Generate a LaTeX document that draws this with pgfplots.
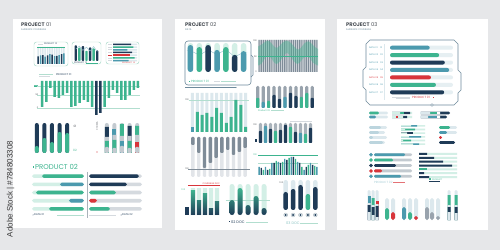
\documentclass[border=0pt]{standalone}
\usepackage{pgfplots}
\pgfplotsset{compat=1.18}
\usepackage{fontspec}
\setmainfont{Poppins}
\newfontfamily\lib{Liberation Sans}
\definecolor{cNavy}{HTML}{1F3B57}
\definecolor{cTeal}{HTML}{3DB48F}
\definecolor{cSteel}{HTML}{4C9AAE}
\definecolor{cMint}{HTML}{D3EFE6}
\definecolor{cMintD}{HTML}{B2DECF}
\definecolor{cLb}{HTML}{DCE8ED}
\definecolor{cLb2}{HTML}{BCD5DE}
\definecolor{cRed}{HTML}{D8353B}
\definecolor{cHat}{HTML}{A9B2BA}
\definecolor{cHat2}{HTML}{C3CAD0}
\definecolor{cHatL}{HTML}{D5DADF}
\definecolor{cHatD}{HTML}{7F8C98}
\definecolor{cBg}{HTML}{E6E7E9}
\definecolor{cFrame}{HTML}{6E8A9C}
\definecolor{cTxt}{HTML}{4A4F55}
\definecolor{cSub}{HTML}{6B8797}
\definecolor{cAdobe}{HTML}{3C3C3C}
\newcommand\tx{\fontsize{2.2}{2.4}\selectfont}
\newcommand\ts{\fontsize{3}{3.2}\selectfont}
\pgfplotsset{
  mini/.style={scale only axis, hide axis, clip=false, anchor=south west, enlargelimits=false},
  vb/.style={ybar, bar shift=0pt, draw=none},
  hb/.style={xbar, bar shift=0pt, draw=none},
  ln/.style={sharp plot, no marks},
}
\begin{document}
\begin{tikzpicture}
\useasboundingbox (0,0) rectangle (500bp,250bp);
\begin{scope}[x=1bp,y=1bp]
\fill[cBg] (0,0) rectangle (500,250);
\fill[white] (13,22) rectangle (162,231);
\fill[white] (175,20) rectangle (325,231);
\fill[white] (337,20) rectangle (488,231);
% ---------- page 1 texts ----------
\node[anchor=west, inner sep=0] at (21,225) {\fontsize{5.2}{5}\selectfont\color{cTxt}\textbf{PROJECT} 01};
\node[anchor=west, inner sep=0] at (21,220) {\fontsize{2.4}{2.4}\selectfont\color{cSub}AUDIENCE COVERAGE};
\draw[cMintD, line width=.5, rounded corners=2.5] (34,184) rectangle (68,208);
\draw[cMintD, line width=.5, rounded corners=2.5] (72,186) rectangle (101,208);
\draw[cMintD, line width=.5, rounded corners=2.5] (106,186) rectangle (139,208);
\draw[cHatL, line width=.5] (38,205.8)--(43,205.8);
\node[anchor=west, inner sep=0] at (44,205.8) {\tx\color{cNavy}PRODUCT 01};
\node[anchor=west, inner sep=0] at (74,187) {\tx\color{cNavy}PRODUCT 01};
\draw[cTeal, line width=.4] (86,187)--(98,187);
\foreach \i in {1,...,7}{\pgfmathsetmacro\yy{205.64-(\i-1)*2.714}\draw[cHatL, line width=.6] (108,\yy)--(111.5,\yy);}
\draw[cRed, line width=.6] (108,194.8)--(111.5,194.8);
\node[anchor=west, inner sep=0] at (122,187.3) {\tx\color{cRed}PRODUCT 01};
\draw[cMintD, line width=.8] (39,175.5)--(53,175.5);
\draw[cHatL, line width=.4] (39,174)--(50,174);
\node[anchor=west, inner sep=0] at (56,175) {\fontsize{2.6}{2.6}\selectfont\color{cNavy}PRODUCT 01};
\node[fill=cTeal, inner sep=.4, anchor=east] at (38.5,164) {\tx\color{white}100};
\node[anchor=east, inner sep=0] at (38.5,155) {\tx\color{cTxt}50};
\node[anchor=east, inner sep=0] at (38.5,142) {\tx\color{cTxt}0};
\node[inner sep=0] at (75,124) {\ts\color{cTxt}01};
\node[inner sep=0] at (75,100) {\ts\color{cTeal}02};
\node[rotate=90, inner sep=0] at (97,124) {\tx\color{cTxt}01 DATA};
\fill[cRed] (97,98) circle (.7);
\fill[cTeal] (32.5,82.3) rectangle (33.8,83.6);
\node[anchor=west, inner sep=0] at (35,83) {\fontsize{7}{7}\selectfont\color{cTeal}PRODUCT 02};
\draw[cHat, line width=.6] (87,78)--(87,32);
\fill[cNavy] (33,35) circle (.5);
\node[anchor=west, inner sep=0] at (34,35) {\fontsize{2.6}{2.6}\selectfont\color{cNavy}DATA 01};
\draw[cMintD, line width=.8] (57,35)--(84,35);
\draw[cHatL, line width=.8] (89,35)--(116,35);
\fill[cNavy] (121,35) circle (.5);
\node[anchor=west, inner sep=0] at (122,35) {\fontsize{2.6}{2.6}\selectfont\color{cNavy}DATA 02};
\node[rotate=90, inner sep=0] at (10.5,61) {\lib\fontsize{8}{8}\selectfont\color{cAdobe}Adobe Stock | \#784803308};
% ---------- page 2 texts ----------
\node[anchor=west, inner sep=0] at (185,225) {\fontsize{5.2}{5}\selectfont\color{cTxt}\textbf{PROJECT} 02};
\node[anchor=west, inner sep=0] at (185,220) {\fontsize{2.4}{2.4}\selectfont\color{cSub}DATA};
\draw[cFrame, line width=.6, rounded corners=3] (185,165) rectangle (251,209);
\draw[cFrame, line width=.6] (251,195)--(253,193)--(253,175)--(251,173);
\draw[cFrame, line width=.4] (185,162.5)--(236,162.5);
\fill[cFrame] (236,162.5) circle (.6);
\fill[cTeal] (189,168) rectangle (190.2,169.2);
\node[anchor=west, inner sep=0] at (191,168.6) {\ts\color{cTeal}PRODUCT 01};
\draw[cHatL, line width=1] (214,168.6)--(220,168.6);
\draw[cMintD, line width=.4] (221,168.6)--(236,168.6);
\node[anchor=east, inner sep=0] at (257,209) {\tx\color{cTxt}100};
\node[anchor=east, inner sep=0] at (257,193) {\tx\color{cTxt}50};
\node[anchor=east, inner sep=0] at (257,178) {\tx\color{cTxt}0};
\node[anchor=west, inner sep=0] at (258,139.5) {\tx\color{cTeal}Product 02};
\draw[cMintD, line width=.4] (271,139.5)--(284,139.5);
\draw[cHatL, line width=.6] (290,128.5)--(312,128.5);
\node[anchor=east, inner sep=0] at (257,125) {\tx\color{cTxt}100};
\fill[cNavy] (254.5,108) rectangle (256.5,111);
\node[anchor=east, inner sep=0] at (257,95) {\tx\color{cTeal}100};
\node[anchor=east, inner sep=0] at (189,150) {\tx\color{cTxt}100};
\node[anchor=east, inner sep=0] at (189,81) {\tx\color{cTxt}100};
\draw[cRed, line width=.5] (188,64.5)--(220,64.5);
\node[anchor=east, inner sep=0] at (220,66.3) {\tx\color{cRed}COVERAGE DOC};
\node[anchor=west, inner sep=0] at (181.5,60) {\tx\color{cTeal}100};
\fill[cNavy] (229,27.5) rectangle (230.3,28.8);
\node[anchor=west, inner sep=0] at (231,28.1) {\fontsize{3.6}{3.6}\selectfont\color{cNavy}02 DOC};
\draw[cMintD, line width=.6] (246,28)--(268,28);
\node[anchor=west, inner sep=0] at (286,27) {\fontsize{3.6}{3.6}\selectfont\color{cMintD!60!cSteel}03 DOC};
\draw[cMintD, line width=.6] (300,27)--(318,27);
\node[anchor=west, inner sep=0] at (279.5,67) {\tx\color{cTxt}100};
% ---------- page 3 texts ----------
\node[anchor=west, inner sep=0] at (346,225) {\fontsize{5.2}{5}\selectfont\color{cTxt}\textbf{PROJECT} 03};
\node[anchor=west, inner sep=0] at (346,220) {\fontsize{2.4}{2.4}\selectfont\color{cSub}AUDIENCE COVERAGE};
\draw[cFrame, line width=.6] (370,210)--(454,210)--(458,206)--(458,180)--(461,177)--(461,160)--(458,157)--(458,149)--(454,145)--(370,145)--(366,149)--(366,160)--(363,163)--(363,180)--(366,183)--(366,206)--cycle;
\draw[cFrame, line width=.4, fill=white] (432,145) circle (1.4);
\foreach \i/\c in {1/cSteel,2/cSteel,3/cSteel,4/cSteel,5/cRed,6/cSteel,7/cSteel}{
  \pgfmathsetmacro\yy{206-(\i-0.5)*7.43}
  \node[anchor=west, inner sep=0] at (369,\yy) {\tx\color{\c}DATA 0\i};
  \node[anchor=west, inner sep=0] at (380,\yy) {\tx\color{\c}0\i};
}
\draw[cLb, line width=.8] (384.5,150)--(384.5,206);
\draw[cHatL, line width=.5] (392,153.2)--(410,153.2);
\draw[cHatL, line width=.5] (396,151.6)--(410,151.6);
\node[anchor=west, inner sep=0] at (412,152.3) {\ts\color{cRed}PRODUCT 01};
\fill[cRed] (433,151.6) rectangle (434.4,153);
\node[anchor=west, inner sep=0] at (374,67.5) {\ts\color{cSteel!50}PRODUCT 02};
\draw[cRed!70, line width=.4] (393,67.5)--(405,67.5);
\fill[cTeal] (429,70) rectangle (431,71.5);
\node[anchor=west, inner sep=0] at (432,70.7) {\tx\color{cTeal}PRODUCT};
\draw[cNavy, line width=.3] (429,68.5)--(440,68.5);
\end{scope}
% ================= PAGE 1 AXES =================
\begin{axis}[mini, at={(37bp,186bp)}, width=28bp, height=17bp, xmin=0.5, xmax=12.5, ymin=0, ymax=100]
\addplot[vb, bar width=1.5bp, fill=cLb] coordinates {(1,100)(2,100)(3,100)(4,100)(5,100)(6,100)(7,100)(8,100)(9,100)(10,100)(11,100)(12,100)};
\addplot[vb, bar width=1.5bp, fill=cNavy] coordinates {(1,45)(3,52)(5,50)(7,55)(9,48)(11,58)};
\addplot[vb, bar width=1.5bp, fill=cSteel] coordinates {(2,50)(4,44)(6,58)(8,46)(10,52)(12,62)};
\addplot[ln, cTeal, line width=.4bp] coordinates {(0.5,100)(12.5,100)};
\end{axis}
\begin{axis}[mini, at={(74bp,189bp)}, width=25bp, height=17bp, xmin=0.5, xmax=7.5, ymin=0, ymax=100]
\addplot[vb, bar width=2.4bp, fill=cNavy, rounded corners=.8bp] coordinates {(1,92)(3,88)(5,80)(7,62)};
\addplot[vb, bar width=2.4bp, fill=cTeal, rounded corners=.8bp] coordinates {(2,78)(4,60)(6,74)};
\addplot[ln, cSteel!60, line width=.4bp] coordinates {(1,70)(2,88)(3,62)(4,82)(5,58)(6,85)(7,55)};
\end{axis}
\begin{axis}[mini, at={(113bp,188bp)}, width=24bp, height=19bp, xmin=0, xmax=100, ymin=0.5, ymax=7.5, y dir=reverse]
\addplot[hb, bar width=1.5bp, fill=cLb] coordinates {(100,1)(100,2)(100,3)(100,4)(100,5)(100,6)(100,7)};
\addplot[hb, bar width=1.5bp, fill=cNavy] coordinates {(75,1)(80,4)};
\addplot[hb, bar width=1.5bp, fill=cTeal] coordinates {(85,2)(90,6)};
\addplot[hb, bar width=1.5bp, fill=cSteel] coordinates {(60,3)(65,7)};
\addplot[hb, bar width=1.5bp, fill=cRed] coordinates {(70,5)};
\end{axis}
\begin{axis}[mini, at={(40bp,129bp)}, width=100bp, height=40bp, xmin=0.5, xmax=24.5, ymin=-40, ymax=0]
\addplot[ln, cMintD, line width=.6bp] coordinates {(-0.2,-5)(24.5,-5)};
\addplot[ln, cMintD, line width=.6bp] coordinates {(-0.2,-14)(24.5,-14)};
\addplot[ln, cMintD, line width=.6bp] coordinates {(-0.2,-27)(24.5,-27)};
\addplot[vb, bar width=2.5bp, fill=cTeal] coordinates {(1,-26)(2,-21)(3,-7)(4,-16)(5,-17)(6,-14)(7,-12)(8,-26)(9,-25)(10,-22)(11,-19)(12,-21)(13,-26)(16,-26)(17,-17)(18,-9)(19,-12)(20,-19)(21,-19)(22,-14)(23,-9)(24,-7)};
\addplot[vb, bar width=2.5bp, fill=cNavy] coordinates {(14,-34)(15,-32)};
\end{axis}
\begin{axis}[mini, at={(33bp,97bp)}, width=38bp, height=30bp, xmin=0.5, xmax=5.5, ymin=0, ymax=30]
\addplot[vb, bar width=4bp, fill=cNavy, rounded corners=2bp] coordinates {(1,30)(2,30)(3,30)(4,30)(5,30)};
\addplot[vb, bar width=4bp, fill=cTeal, rounded corners=2bp] coordinates {(1,7)(2,15)(3,11)(4,21)(5,20)};
\end{axis}
\begin{axis}[mini, at={(103bp,97bp)}, width=38bp, height=30bp, xmin=0.5, xmax=5.5, ymin=0, ymax=30]
\addplot[vb, bar width=4bp, fill=cHat2, rounded corners=2bp] coordinates {(1,30)(2,30)(3,30)(4,30)(5,30)};
\addplot[vb, bar width=4bp, fill=cNavy] coordinates {(1,26)(4,27)};
\addplot[vb, bar width=4bp, fill=cSteel] coordinates {(2,24)};
\addplot[vb, bar width=4bp, fill=cTeal] coordinates {(3,29)(5,27)};
\addplot[vb, bar width=4bp, fill=cHat2] coordinates {(1,16)(2,18)(3,17)(4,17)(5,18)};
\addplot[vb, bar width=4bp, fill=cTeal] coordinates {(1,12)(2,13)(4,12)};
\addplot[vb, bar width=4bp, fill=cSteel] coordinates {(3,12)};
\addplot[vb, bar width=4bp, fill=cRed] coordinates {(5,11)};
\addplot[vb, bar width=4bp, fill=cHat2, rounded corners=1bp] coordinates {(1,6)(2,5)(3,7)(4,5)(5,6)};
\end{axis}
\begin{axis}[mini, at={(32bp,37bp)}, width=52bp, height=41bp, xmin=0, xmax=52, x dir=reverse, ymin=0.5, ymax=5.5, y dir=reverse]
\addplot[hb, bar width=3.6bp, fill=cMint, rounded corners=1.8bp] coordinates {(52,1)(52,2)(52,3)(52,4)(52,5)};
\addplot[hb, bar width=3.6bp, fill=cTeal, rounded corners=1.8bp] coordinates {(42,1)(48,3)(35,5)};
\addplot[hb, bar width=3.6bp, fill=cSteel, rounded corners=1.8bp] coordinates {(24,2)(15,4)};
\end{axis}
\begin{axis}[mini, at={(89bp,37bp)}, width=53bp, height=41bp, xmin=0, xmax=53, ymin=0.5, ymax=5.5, y dir=reverse]
\addplot[hb, bar width=3.6bp, fill=cHatL, rounded corners=1.8bp] coordinates {(53,1)(53,2)(53,3)(53,4)(53,5)};
\addplot[hb, bar width=3.6bp, fill=cNavy, rounded corners=1.8bp] coordinates {(50,1)(38,2)};
\addplot[hb, bar width=3.6bp, fill=cTeal, rounded corners=1.8bp] coordinates {(27,3)(21,5)};
\addplot[hb, bar width=3.6bp, fill=cRed, rounded corners=1.8bp] coordinates {(8,4)};
\end{axis}
% ================= PAGE 2 AXES =================
\begin{axis}[mini, at={(186bp,178bp)}, width=62bp, height=29bp, xmin=0.5, xmax=7.5, ymin=0, ymax=100]
\addplot[vb, bar width=5.5bp, fill=cMint, rounded corners=2.7bp] coordinates {(1,100)(2,100)(3,100)(4,100)(5,100)(6,100)(7,100)};
\addplot[ln, cSteel!60, line width=.4bp] coordinates {(0.6,74)(1,74)(2,58)(3,76)(4,60)(5,78)(6,52)(7,68)(7.4,68)};
\addplot[vb, bar width=5.5bp, fill=cSteel, rounded corners=2.7bp] coordinates {(1,93)(4,76)(7,72)};
\addplot[vb, bar width=5.5bp, fill=cTeal, rounded corners=2.7bp] coordinates {(2,86)(5,86)};
\addplot[vb, bar width=5.5bp, fill=cNavy, rounded corners=2.7bp] coordinates {(3,93)(6,59)};
\end{axis}
\begin{axis}[mini, at={(258bp,178bp)}, width=60bp, height=32bp, xmin=0.5, xmax=28.5, ymin=0, ymax=100]
\addplot[vb, bar width=2.1bp, fill=cHatL] coordinates {(1,100)(2,100)(3,100)(4,100)(5,100)(6,100)(7,100)(8,100)(9,100)(10,100)(11,100)(12,100)(13,100)(14,100)(15,100)(16,100)(17,100)(18,100)(19,100)(20,100)(21,100)(22,100)(23,100)(24,100)(25,100)(26,100)(27,100)(28,100)};
\addplot[vb, bar width=1.1bp, fill=cHatD] coordinates {(1,100)(2,100)(3,100)(4,100)(5,100)(6,100)(7,100)(8,100)(9,100)(10,100)(11,100)(12,100)(13,100)(14,100)(15,100)(16,100)(17,100)(18,100)(19,100)(20,100)(21,100)(22,100)(23,100)(24,100)(25,100)(26,100)(27,100)(28,100)};
\addplot[fill=cTeal, fill opacity=.4, draw=none] coordinates {(0.5,80)(2,85)(3,90)(4,95)(5,98)(6,95)(7,88)(8,80)(9,75)(10,78)(11,85)(12,92)(13,96)(14,98)(15,95)(16,90)(17,82)(18,75)(19,70)(20,72)(21,80)(22,88)(23,94)(24,96)(25,92)(26,85)(27,78)(28.5,72)(28.5,20)(27,25)(26,30)(25,40)(24,48)(23,50)(22,45)(21,38)(20,30)(19,25)(18,28)(17,35)(16,45)(15,55)(14,60)(13,55)(12,45)(11,35)(10,28)(9,25)(8,30)(7,40)(6,48)(5,50)(4,45)(3,35)(2,25)(0.5,20)} -- cycle;
\addplot[ln, cTeal, line width=.5bp] coordinates {(0.5,50)(28.5,50)};
\end{axis}
\begin{axis}[mini, at={(255bp,142bp)}, width=60bp, height=22bp, xmin=0.5, xmax=11.5, ymin=0, ymax=22]
\addplot[vb, bar width=3.2bp, fill=cHatD!80!white, rounded corners=1.2bp] coordinates {(1,22)(2,22)(3,22)(4,22)(5,22)(6,22)(7,22)(8,22)(9,22)(10,22)(11,22)};
\addplot[vb, bar width=3.2bp, fill=cTeal, rounded corners=.8bp] coordinates {(1,10)(3,7)(9,11)(10,15)};
\addplot[vb, bar width=3.2bp, fill=cSteel, rounded corners=.8bp] coordinates {(2,6)(6,11)};
\addplot[vb, bar width=3.2bp, fill=cNavy, rounded corners=.8bp] coordinates {(4,13)(5,9)(7,15)(8,12)(11,10)};
\end{axis}
\begin{axis}[mini, at={(258bp,107bp)}, width=55bp, height=20bp, xmin=0.5, xmax=11.5, ymin=0, ymax=20]
\addplot[vb, bar width=3.2bp, fill=cHat, rounded corners=1.2bp] coordinates {(1,20)(2,20)(3,20)(4,20)(5,20)(6,20)(7,20)(8,20)(9,20)(10,20)(11,20)};
\addplot[vb, bar width=3.2bp, fill=cNavy, rounded corners=.8bp] coordinates {(1,12)(3,14)(5,13)(6,18)(8,11)(11,15)};
\addplot[vb, bar width=3.2bp, fill=cSteel, rounded corners=.8bp] coordinates {(2,17)(9,10)};
\addplot[vb, bar width=3.2bp, fill=cTeal, rounded corners=.8bp] coordinates {(4,12)(7,16)(10,9)};
\end{axis}
\begin{axis}[mini, at={(258bp,75bp)}, width=60bp, height=20bp, xmin=0.5, xmax=28.5, ymin=0, ymax=20]
\addplot[ln, cTeal, line width=.5bp] coordinates {(0.5,20)(28.5,20)};
\addplot[ln, cMintD, line width=.4bp] coordinates {(0.5,12)(28.5,12)};
\addplot[vb, bar width=1.4bp, fill=cSteel] coordinates {(1,8)(4,8)(7,12)(10,13)(13,16)(16,18)(19,13)(22,5)(25,12)(28,8)};
\addplot[vb, bar width=1.4bp, fill=cNavy] coordinates {(2,7)(5,5)(8,12)(11,12)(14,15)(17,18)(20,12)(23,8)(26,10)};
\addplot[vb, bar width=1.4bp, fill=cTeal] coordinates {(3,5)(6,6)(9,14)(12,13)(15,17)(18,16)(21,8)(24,10)(27,9)};
\end{axis}
\begin{axis}[mini, at={(190bp,118bp)}, width=58bp, height=39bp, xmin=0.5, xmax=12.5, ymin=0, ymax=39]
\addplot[vb, bar width=3bp, fill=cLb] coordinates {(1,39)(2,39)(3,39)(4,39)(5,39)(6,39)(7,39)(8,39)(9,39)(10,39)(11,39)(12,39)};
\addplot[ln, cMintD, line width=.5bp] coordinates {(0.2,32)(12.8,32)};
\addplot[vb, bar width=3bp, fill=cSteel] coordinates {(1,5)};
\addplot[vb, bar width=3bp, fill=cTeal] coordinates {(2,20)(3,17)(4,19)(5,15)(6,24)(7,19)(8,9)(9,15)(10,32)(11,27)(12,5)};
\end{axis}
\begin{axis}[mini, at={(190bp,73bp)}, width=58bp, height=40bp, xmin=0.5, xmax=10.5, ymin=-40, ymax=0]
\addplot[vb, bar width=3.4bp, fill=cHatL!70!white, rounded corners=1.2bp] coordinates {(1,-40)(2,-40)(3,-40)(4,-40)(5,-40)(6,-40)(7,-40)(8,-40)(9,-40)(10,-40)};
\addplot[vb, bar width=3.4bp, fill=cHatD, rounded corners=1bp] coordinates {(1,-8)(2,-16)(3,-31)(4,-26)(5,-21)(6,-16)(7,-13)(8,-18)(9,-15)(10,-11)};
\addplot[ln, cHatD, line width=.4bp] coordinates {(0.2,-32)(10.8,-32)};
\end{axis}
\begin{axis}[mini, at={(184bp,35bp)}, width=36bp, height=27bp, xmin=0.5, xmax=6.5, ymin=0, ymax=27]
\addplot[vb, bar width=4.2bp, fill=cMint] coordinates {(2,27)(3,27)(4,27)(5,27)(6,27)};
\addplot[vb, bar width=3.5bp, fill=cNavy] coordinates {(1,8)};
\addplot[vb, bar width=4.2bp, top color=cTeal, bottom color=cNavy] coordinates {(2,25)(3,15)(4,22)(5,7)(6,14)};
\end{axis}
\begin{axis}[mini, at={(228bp,35bp)}, width=40bp, height=31bp, xmin=0.5, xmax=5.5, ymin=0, ymax=31]
\addplot[vb, bar width=5bp, fill=cMint, rounded corners=2.5bp] coordinates {(1,31)(2,31)(3,31)(4,31)(5,31)};
\addplot[ln, cMintD, line width=.4bp] coordinates {(0.2,15)(5.8,15)};
\addplot[vb, bar width=5bp, top color=cTeal, bottom color=cNavy, rounded corners=2.5bp] coordinates {(1,15)(2,27)(3,10)(4,19)(5,7)};
\end{axis}
\begin{axis}[mini, at={(282bp,40bp)}, width=37bp, height=30bp, xmin=0.5, xmax=5.5, ymin=0, ymax=30]
\addplot[vb, bar width=4.5bp, fill=cLb, rounded corners=2.2bp] coordinates {(1,30)(2,30)(3,30)(4,30)(5,30)};
\addplot[vb, bar width=4.5bp, fill=cNavy, rounded corners=2.2bp] coordinates {(1,18)(2,21)(3,25)(5,23)};
\addplot[vb, bar width=4.5bp, fill=cTeal, rounded corners=2.2bp] coordinates {(4,16)};
\addplot[only marks, mark=*, mark size=2bp, mark options={fill=cLb, draw=cHat, line width=.3bp}] coordinates {(1,-5)(2,-5)(3,-5)(4,-5)(5,-5)};
\addplot[only marks, mark=*, mark size=.7bp, color=cNavy] coordinates {(1,-5)(2,-5)(3,-5)(4,-5)(5,-5)};
\end{axis}
% ================= PAGE 3 AXES =================
\begin{axis}[mini, at={(390bp,154bp)}, width=63bp, height=52bp, xmin=0, xmax=100, ymin=0.5, ymax=7.5, y dir=reverse]
\addplot[hb, bar width=4bp, fill=cLb!70!white, rounded corners=2bp] coordinates {(100,1)(100,2)(100,3)(100,4)(100,5)(100,6)(100,7)};
\addplot[hb, bar width=4bp, fill=cSteel, rounded corners=2bp] coordinates {(63,1)(94,4)};
\addplot[hb, bar width=4bp, fill=cTeal, rounded corners=2bp] coordinates {(78,2)(73,6)};
\addplot[hb, bar width=4bp, fill=cNavy, rounded corners=2bp] coordinates {(87,3)(86,7)};
\addplot[hb, bar width=4bp, fill=cRed, rounded corners=2bp] coordinates {(65,5)};
\end{axis}
\begin{axis}[mini, at={(369bp,131bp)}, width=19bp, height=8bp, xmin=0, xmax=19, ymin=0.5, ymax=2.5, y dir=reverse]
\addplot[hb, bar width=2.6bp, fill=cLb, rounded corners=1.2bp] coordinates {(19,1)(19,2)};
\addplot[hb, bar width=2.6bp, fill=cTeal, rounded corners=1.2bp] coordinates {(10,1)};
\addplot[hb, bar width=2.6bp, fill=cSteel, rounded corners=1.2bp] coordinates {(7,2)};
\end{axis}
\begin{axis}[mini, at={(392bp,131bp)}, width=20bp, height=8bp, xmin=0, xmax=20, ymin=0.5, ymax=2.5, y dir=reverse]
\addplot[hb, bar width=2.2bp, fill=cMint] coordinates {(20,1)(20,2)};
\addplot[hb, bar width=2.2bp, fill=cNavy] coordinates {(18,1)(15,2)};
\addplot[hb, bar width=2.2bp, fill=cTeal] coordinates {(12,1)};
\addplot[hb, bar width=2.2bp, fill=cMint] coordinates {(8,1)(11,2)};
\addplot[hb, bar width=2.2bp, fill=cRed] coordinates {(6,2)};
\addplot[hb, bar width=2.2bp, fill=cMint] coordinates {(4,2)};
\end{axis}
\begin{axis}[mini, at={(420bp,131bp)}, width=32bp, height=8bp, xmin=0, xmax=32, ymin=0.5, ymax=2.5, y dir=reverse]
\addplot[hb, bar width=2.6bp, fill=cNavy, rounded corners=1.2bp] coordinates {(30,1)(27,2)};
\addplot[hb, bar width=2.6bp, fill=white] coordinates {(20,1)(20,2)};
\addplot[hb, bar width=2.6bp, fill=cTeal] coordinates {(17,1)};
\addplot[hb, bar width=2.6bp, fill=cSteel] coordinates {(17,2)};
\addplot[hb, bar width=2.6bp, fill=cLb] coordinates {(10,1)(8,2)};
\end{axis}
\begin{axis}[mini, at={(369bp,105bp)}, width=18bp, height=20bp, xmin=0, xmax=18, ymin=0.5, ymax=4.5, y dir=reverse]
\addplot[hb, bar width=2.6bp, fill=cLb, rounded corners=1.2bp] coordinates {(18,1)(16,2)(18,3)(16,4)};
\addplot[hb, bar width=2.6bp, fill=cLb2, rounded corners=1.2bp] coordinates {(12,1)(10,2)(4,3)(14,4)};
\end{axis}
\begin{axis}[mini, at={(401bp,104bp)}, width=24bp, height=22bp, xmin=0, xmax=24, ymin=0.5, ymax=6.5, y dir=reverse]
\addplot[hb, bar width=1.6bp, fill=cMint] coordinates {(24,1)(24,2)(24,3)(24,4)(24,5)(24,6)};
\addplot[hb, bar width=1.6bp, fill=cSteel] coordinates {(16,1)(20,4)(18,6)};
\addplot[hb, bar width=1.6bp, fill=cTeal] coordinates {(14,2)(10,5)};
\addplot[hb, bar width=1.6bp, fill=cNavy] coordinates {(12,3)};
\addplot[hb, bar width=1.6bp, fill=cMint] coordinates {(10,1)(4,2)(6,3)(8,4)(2,5)(12,6)};
\end{axis}
\begin{axis}[mini, at={(439bp,105bp)}, width=18bp, height=20bp, xmin=0, xmax=18, ymin=0.5, ymax=4.5, y dir=reverse]
\addplot[hb, bar width=2.6bp, fill=cLb, rounded corners=1.2bp] coordinates {(18,1)(18,2)};
\addplot[hb, bar width=2.6bp, fill=cTeal, rounded corners=1.2bp] coordinates {(11,1)};
\addplot[hb, bar width=2.6bp, fill=cSteel, rounded corners=1.2bp] coordinates {(8,2)};
\addplot[hb, bar width=2.6bp, fill=cRed, rounded corners=1.2bp] coordinates {(3,3)};
\addplot[hb, bar width=2.6bp, fill=cNavy, rounded corners=1.2bp] coordinates {(16,4)};
\end{axis}
\begin{axis}[mini, at={(374bp,71bp)}, width=38bp, height=27bp, xmin=0, xmax=38, ymin=0.5, ymax=5.5, y dir=reverse]
\addplot[hb, bar width=2.8bp, fill=cHat2, rounded corners=1.2bp] coordinates {(38,1)(38,2)(38,3)(38,4)(38,5)};
\addplot[hb, bar width=2.8bp, fill=cSteel, rounded corners=1.2bp] coordinates {(31,1)(27,5)};
\addplot[hb, bar width=2.8bp, fill=cTeal, rounded corners=1.2bp] coordinates {(19,2)};
\addplot[hb, bar width=2.8bp, fill=cNavy, rounded corners=1.2bp] coordinates {(22,3)};
\addplot[hb, bar width=2.8bp, fill=cRed, rounded corners=1.2bp] coordinates {(8,4)};
\addplot[only marks, mark=*, mark size=1.6bp, color=cSteel] coordinates {(-3,1)(-3,5)};
\addplot[only marks, mark=*, mark size=1.6bp, color=cTeal] coordinates {(-3,2)};
\addplot[only marks, mark=*, mark size=1.6bp, color=cNavy] coordinates {(-3,3)};
\addplot[only marks, mark=*, mark size=1.6bp, color=cRed] coordinates {(-3,4)};
\end{axis}
\begin{axis}[mini, at={(419bp,71bp)}, width=38bp, height=27bp, xmin=0, xmax=38, ymin=0.5, ymax=7.5, y dir=reverse]
\addplot[hb, bar width=2bp, fill=cMint] coordinates {(38,1)(38,2)(38,3)(38,4)(38,5)(38,6)(38,7)};
\addplot[hb, bar width=2bp, fill=cNavy] coordinates {(8,1)(15,2)(24,3)(33,4)(5,6)(10,7)};
\addplot[hb, bar width=2bp, fill=cTeal] coordinates {(8,5)};
\end{axis}
\begin{axis}[mini, at={(365bp,30bp)}, width=95bp, height=30bp, xmin=365, xmax=460, ymin=0, ymax=30]
\addplot[vb, bar width=3bp, fill=cLb, rounded corners=1.4bp] coordinates {(369,30)(373,30)(377,30)(449,30)(456,30)};
\addplot[vb, bar width=4bp, fill=cLb, rounded corners=1.8bp] coordinates {(387,22)(393,22)(404,22)(410,22)(416,22)(427,22)(432,22)(438,22)};
\addplot[vb, bar width=3bp, fill=cSteel] coordinates {(369,24)};
\addplot[vb, bar width=3bp, fill=cTeal] coordinates {(373,22)(449,25)(456,25)};
\addplot[vb, bar width=3bp, fill=cRed] coordinates {(377,19)};
\addplot[vb, bar width=3bp, fill=cLb] coordinates {(369,17)(373,15)(377,16)(449,15)(456,15)};
\addplot[vb, bar width=3bp, fill=cNavy] coordinates {(369,15)(373,13)(377,14)(449,13)(456,13)};
\addplot[vb, bar width=3bp, fill=cLb] coordinates {(369,8)(373,5)(377,3)(449,8)(456,7)};
\addplot[vb, bar width=4bp, fill=cTeal, rounded corners=1.8bp] coordinates {(387,12)(410,8)};
\addplot[vb, bar width=4bp, fill=cRed, rounded corners=1.8bp] coordinates {(393,8)(416,4)};
\addplot[vb, bar width=4bp, fill=cSteel, rounded corners=1.8bp] coordinates {(404,13)};
\addplot[vb, bar width=4bp, fill=cHatD!80!white, rounded corners=1.8bp] coordinates {(427,13)(432,8)(438,4)};
\end{axis}
\end{tikzpicture}
\end{document}
